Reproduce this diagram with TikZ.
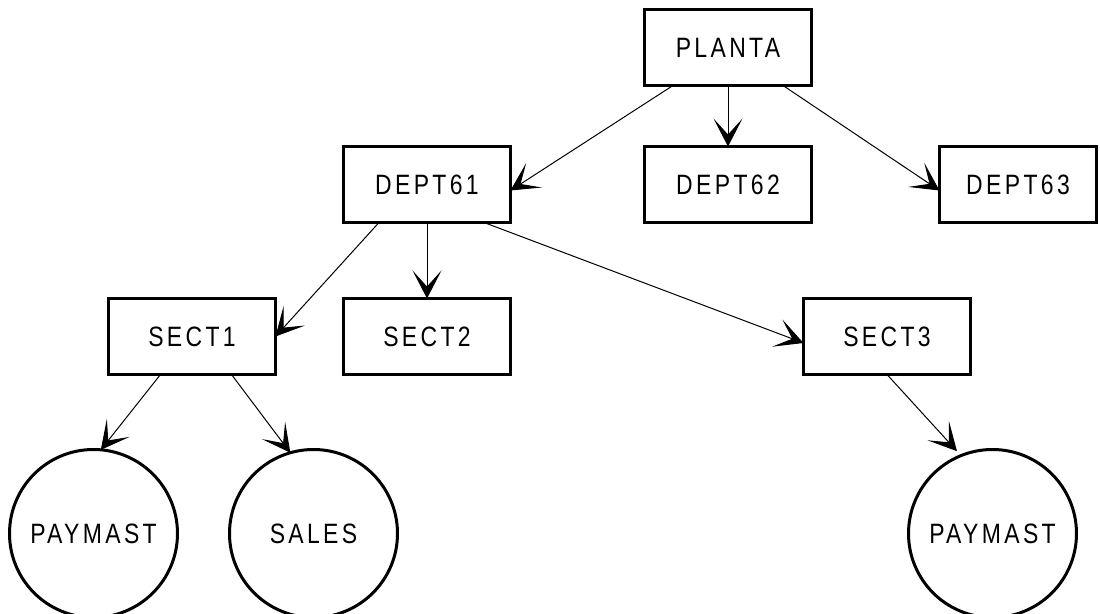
\documentclass[tikz,border=0pt]{standalone}
\usepackage{fontspec}
\setmainfont{Liberation Sans}[FakeStretch=0.82,LetterSpace=12]
\usetikzlibrary{positioning,arrows.meta}

\begin{document}
\begin{tikzpicture}[x=0.5pt,y=-0.5pt,
box/.style={rectangle,draw,line width=1.5pt,outer sep=0pt,inner sep=0pt,
  minimum width=83.5pt,minimum height=38pt,font=\fontsize{14}{16}\selectfont},
leaf/.style={circle,draw,line width=1.5pt,outer sep=0pt,inner sep=0pt,
  minimum size=84pt,font=\fontsize{14}{16}\selectfont},
edge/.style={-{Stealth[length=14pt,width=14.5pt,inset=8pt]},line width=0.5pt}]

\useasboundingbox (0,0) rectangle (1100,614);

% nodes
\node[box] (planta) at (728,47.5) {PLANTA};
\node[box,below=30.5pt of planta] (dept62) {DEPT62};
\node[box,left=67pt of dept62] (dept61) {DEPT61};
\node[box,right=64pt of dept62,minimum width=78.5pt] (dept63) {DEPT63};

\node[box,below=38pt of dept61] (sect2) {SECT2};
\node[box,left=34pt of sect2] (sect1) {SECT1};
\node[box,right=146.5pt of sect2] (sect3) {SECT3};

% leaves
\node[leaf,below=37.5pt of sect1,xshift=-49.25pt] (paymast1) {PAYMAST};
\node[leaf,below=37.5pt of sect1,xshift=60.75pt] (sales) {SALES};
\node[leaf,below=37.5pt of sect3,xshift=52.75pt] (paymast2) {PAYMAST};

% edges
\draw[edge] ([xshift=-27.5pt]planta.south) -- ([yshift=-3pt]dept61.east);
\draw[edge] (planta) -- (dept62);
\draw[edge] ([xshift=27.5pt]planta.south) -- ([yshift=-3pt]dept63.west);
\draw[edge] ([xshift=-24pt]dept61.south) -- (sect1.east);
\draw[edge] (dept61) -- (sect2);
\draw[edge] ([xshift=28.5pt]dept61.south) -- ([yshift=-3.25pt]sect3.west);
\draw[edge] ([xshift=-15.75pt]sect1.south) -- (paymast1.85);
\draw[edge] ([xshift=19.75pt]sect1.south) -- (sales.106);
\draw[edge, shorten >=3pt] (sect3.south) -- (paymast2.112);

\end{tikzpicture}
\end{document}
